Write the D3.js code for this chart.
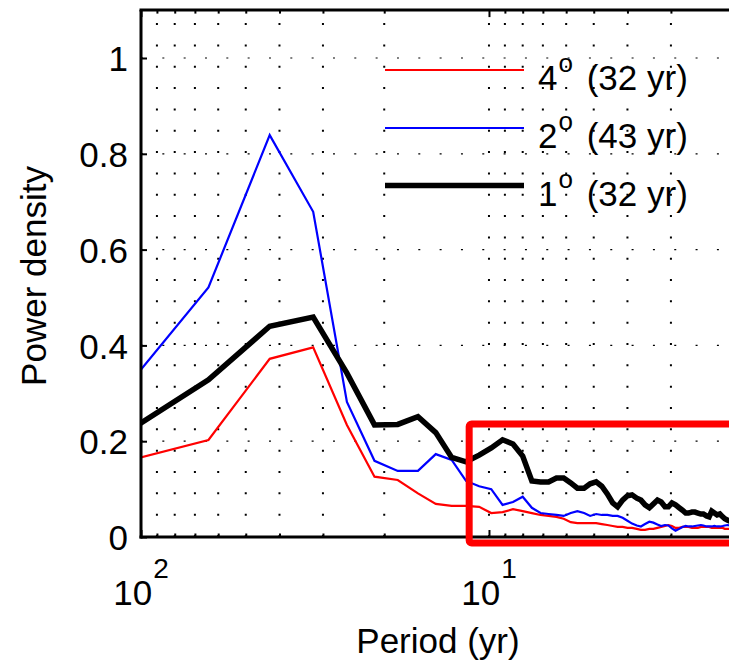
<!DOCTYPE html>
<html>
<head>
<meta charset="utf-8">
<script src="https://cdn.jsdelivr.net/npm/d3@7"></script>
<style>
  html, body { margin: 0; padding: 0; background: #fff; }
  svg { display: block; font-family: "Liberation Sans", Arial, Helvetica, sans-serif; }
</style>
</head>
<body>
<svg id="chart" width="729" height="661"></svg>
<script>
// ---------------- data ----------------
const periods = [128, 64, 42.67, 32, 25.6, 21.33, 18.29, 16, 14.22, 12.8,
  11.64, 10.67, 9.85, 9.14, 8.53, 8, 7.53, 7.11, 6.74, 6.4,
  6.1, 5.82, 5.57, 5.33, 5.12, 4.92, 4.74, 4.57, 4.41, 4.27,
  4.13, 4, 3.88, 3.76, 3.66, 3.56, 3.46, 3.37, 3.28, 3.2,
  3.12, 3.05, 2.98, 2.91, 2.84, 2.78, 2.72, 2.67, 2.61, 2.56,
  2.51, 2.46, 2.42, 2.37, 2.33, 2.29, 2.25, 2.21, 2.17, 2.13,
  2.1, 2.06, 2.03, 2];

const power4deg = [0.146, 0.2025, 0.372, 0.396, 0.234, 0.126, 0.119, 0.091, 0.069, 0.065,
  0.065, 0.063, 0.050, 0.052, 0.058, 0.054, 0.050, 0.046, 0.044, 0.042,
  0.038, 0.031, 0.029, 0.029, 0.029, 0.029, 0.027, 0.025, 0.023, 0.021,
  0.021, 0.019, 0.019, 0.017, 0.015, 0.015, 0.017, 0.017, 0.019, 0.021,
  0.023, 0.025, 0.023, 0.019, 0.019, 0.021, 0.021, 0.021, 0.019, 0.019,
  0.019, 0.021, 0.021, 0.021, 0.021, 0.019, 0.019, 0.019, 0.019, 0.019,
  0.017, 0.017, 0.017, 0.017];

const power2deg = [0.255, 0.521, 0.839, 0.679, 0.282, 0.159, 0.138, 0.138, 0.173, 0.161,
  0.117, 0.106, 0.100, 0.067, 0.073, 0.084, 0.061, 0.050, 0.048, 0.046,
  0.044, 0.050, 0.054, 0.050, 0.044, 0.048, 0.046, 0.046, 0.044, 0.044,
  0.040, 0.034, 0.028, 0.024, 0.022, 0.027, 0.032, 0.030, 0.026, 0.023,
  0.025, 0.024, 0.018, 0.013, 0.017, 0.021, 0.023, 0.022, 0.022, 0.023,
  0.024, 0.025, 0.024, 0.022, 0.022, 0.022, 0.023, 0.022, 0.022, 0.023,
  0.024, 0.025, 0.024, 0.023];

const power1deg = [0.188, 0.328, 0.440, 0.459, 0.342, 0.234, 0.235, 0.251, 0.218, 0.166,
  0.157, 0.171, 0.186, 0.203, 0.194, 0.169, 0.117, 0.115, 0.115, 0.123,
  0.123, 0.113, 0.102, 0.102, 0.111, 0.115, 0.106, 0.090, 0.071, 0.063,
  0.077, 0.086, 0.088, 0.081, 0.077, 0.067, 0.061, 0.069, 0.077, 0.073,
  0.063, 0.063, 0.071, 0.067, 0.061, 0.056, 0.050, 0.050, 0.052, 0.052,
  0.050, 0.048, 0.048, 0.044, 0.042, 0.054, 0.050, 0.046, 0.048, 0.042,
  0.038, 0.035, 0.033, 0.033];

const seriesNames = ["4", "2", "1"];
const seriesYears = ["(32 yr)", "(43 yr)", "(32 yr)"];
const seriesColors = ["#ff0000", "#0000ff", "#000000"];
const seriesWidths = [2.2, 2.2, 5.5];

const xMajorTicks = [100, 10];
const xMajorLabels = [["10", "2"], ["10", "1"]];
const xMinorTicks = [90, 80, 70, 60, 50, 40, 30, 20, 9, 8, 7, 6, 5, 4, 3, 2];
const yTicks = [0, 0.2, 0.4, 0.6, 0.8, 1];
const yTickLabels = ["0", "0.2", "0.4", "0.6", "0.8", "1"];

// annotation box (data units: period range, power range)
const boxPeriods = [11.4, 1.8];
const boxPower = [-0.0125, 0.236];

// ---------------- layout ----------------
const svg = d3.select("#chart");
const pLeft = 141, pRight = 732.2, pTop = 10.1, pBottom = 537;
const x = d3.scaleLog().domain([100, 2]).range([pLeft, pRight]);
const y = d3.scaleLinear().domain([0, 1.1]).range([pBottom, pTop]);

svg.append("defs").append("clipPath").attr("id", "plotclip")
  .append("rect").attr("x", pLeft).attr("y", pTop)
  .attr("width", pRight - pLeft).attr("height", pBottom - pTop);

// grid: vertical (minor + major x ticks), dotted
const gridG = svg.append("g");
gridG.selectAll("line.vg").data(xMinorTicks.concat(xMajorTicks.slice(1)))
  .enter().append("line")
  .attr("x1", d => x(d)).attr("x2", d => x(d))
  .attr("y1", pBottom).attr("y2", pTop)
  .attr("stroke", "#000").attr("stroke-width", 2)
  .attr("stroke-dasharray", "2,19.33");

// grid: horizontal (y ticks)
gridG.selectAll("line.hg").data(yTicks.slice(1))
  .enter().append("line")
  .attr("x1", pLeft).attr("x2", 729)
  .attr("y1", d => y(d)).attr("y2", d => y(d))
  .attr("stroke", "#000").attr("stroke-width", 1.2)
  .attr("stroke-dasharray", "2,19.33");

// data lines
const seriesData = [power4deg, power2deg, power1deg];
const line = d3.line().x(d => x(d[0])).y(d => y(d[1]));
const linesG = svg.append("g").attr("clip-path", "url(#plotclip)");
seriesData.forEach((vals, i) => {
  linesG.append("path")
    .datum(periods.map((p, j) => [p, vals[j]]))
    .attr("d", line)
    .attr("fill", "none")
    .attr("stroke", seriesColors[i])
    .attr("stroke-width", seriesWidths[i])
    .attr("stroke-linejoin", "miter");
});

// axes frame
const frame = svg.append("g").attr("stroke", "#000").attr("stroke-width", 3);
frame.append("line").attr("x1", pLeft).attr("x2", pLeft).attr("y1", pTop).attr("y2", pBottom + 1.5);
frame.append("line").attr("x1", pLeft - 1.5).attr("x2", 729).attr("y1", pBottom).attr("y2", pBottom);
frame.append("line").attr("x1", pLeft - 1.5).attr("x2", 729).attr("y1", pTop).attr("y2", pTop);

// y axis
const yAxis = d3.axisLeft(y).tickValues(yTicks)
  .tickFormat((d, i) => yTickLabels[i]).tickSize(-6).tickPadding(13);
const yg = svg.append("g").attr("transform", `translate(${pLeft},0)`).call(yAxis);
yg.select(".domain").remove();
yg.selectAll(".tick line").attr("stroke", "#000").attr("stroke-width", 2);
yg.selectAll(".tick text").attr("font-size", 35).attr("fill", "#000")
  .attr("font-family", "'Liberation Sans', Arial, sans-serif").attr("dy", "0.36em");

// x axis minor ticks (bottom and top)
const xgMinor = svg.append("g").attr("transform", `translate(0,${pBottom})`)
  .call(d3.axisBottom(x).tickValues(xMinorTicks).tickSize(-3.5).tickFormat(""));
xgMinor.select(".domain").remove();
xgMinor.selectAll(".tick line").attr("stroke-width", 2);
const xgMinorTop = svg.append("g").attr("transform", `translate(0,${pTop})`)
  .call(d3.axisTop(x).tickValues(xMinorTicks).tickSize(-3.5).tickFormat(""));
xgMinorTop.select(".domain").remove();
xgMinorTop.selectAll(".tick line").attr("stroke-width", 2);

// x axis major ticks
const xgMajor = svg.append("g").attr("transform", `translate(0,${pBottom})`)
  .call(d3.axisBottom(x).tickValues(xMajorTicks).tickSize(-7).tickFormat(""));
xgMajor.select(".domain").remove();
xgMajor.selectAll(".tick line").attr("stroke-width", 2);
const xgMajorTop = svg.append("g").attr("transform", `translate(0,${pTop})`)
  .call(d3.axisTop(x).tickValues(xMajorTicks).tickSize(-7).tickFormat(""));
xgMajorTop.select(".domain").remove();
xgMajorTop.selectAll(".tick line").attr("stroke-width", 2);

// x major tick labels (10^n)
xMajorTicks.forEach((t, i) => {
  const tx = svg.append("text")
    .attr("x", x(t)).attr("y", 605)
    .attr("text-anchor", "middle")
    .attr("font-size", 35).attr("fill", "#000");
  tx.append("tspan").text(xMajorLabels[i][0]);
  tx.append("tspan").attr("font-size", 28).attr("dy", -27).attr("dx", 1).text(xMajorLabels[i][1]);
});

// axis titles
svg.append("text").attr("x", 438).attr("y", 653)
  .attr("text-anchor", "middle").attr("font-size", 35).attr("fill", "#000")
  .text("Period (yr)");
svg.append("text")
  .attr("transform", "translate(46,276) rotate(-90)")
  .attr("text-anchor", "middle").attr("font-size", 35).attr("fill", "#000")
  .text("Power density");

// legend (no box)
const legendY = [70, 128, 185.5];
seriesNames.forEach((name, i) => {
  svg.append("line")
    .attr("x1", 385).attr("x2", 524)
    .attr("y1", legendY[i]).attr("y2", legendY[i])
    .attr("stroke", seriesColors[i]).attr("stroke-width", seriesWidths[i]);
  const t = svg.append("text").attr("x", 538).attr("y", legendY[i] + 20)
    .attr("font-size", 35).attr("fill", "#000");
  t.append("tspan").text(name);
  t.append("tspan").attr("font-size", 26).attr("dy", -18).attr("dx", 1).text("o");
  t.append("tspan").attr("dy", 18).attr("dx", 4).text("\u00a0" + seriesYears[i]);
});

// red annotation box
const bx0 = x(boxPeriods[0]), bx1 = x(boxPeriods[1]);
const by0 = y(boxPower[1]), by1 = y(boxPower[0]);
svg.append("rect")
  .attr("x", bx0).attr("y", by0)
  .attr("width", bx1 - bx0).attr("height", by1 - by0)
  .attr("rx", 2.5)
  .attr("fill", "none").attr("stroke", "#ff0000").attr("stroke-width", 7);
</script>
</body>
</html>
